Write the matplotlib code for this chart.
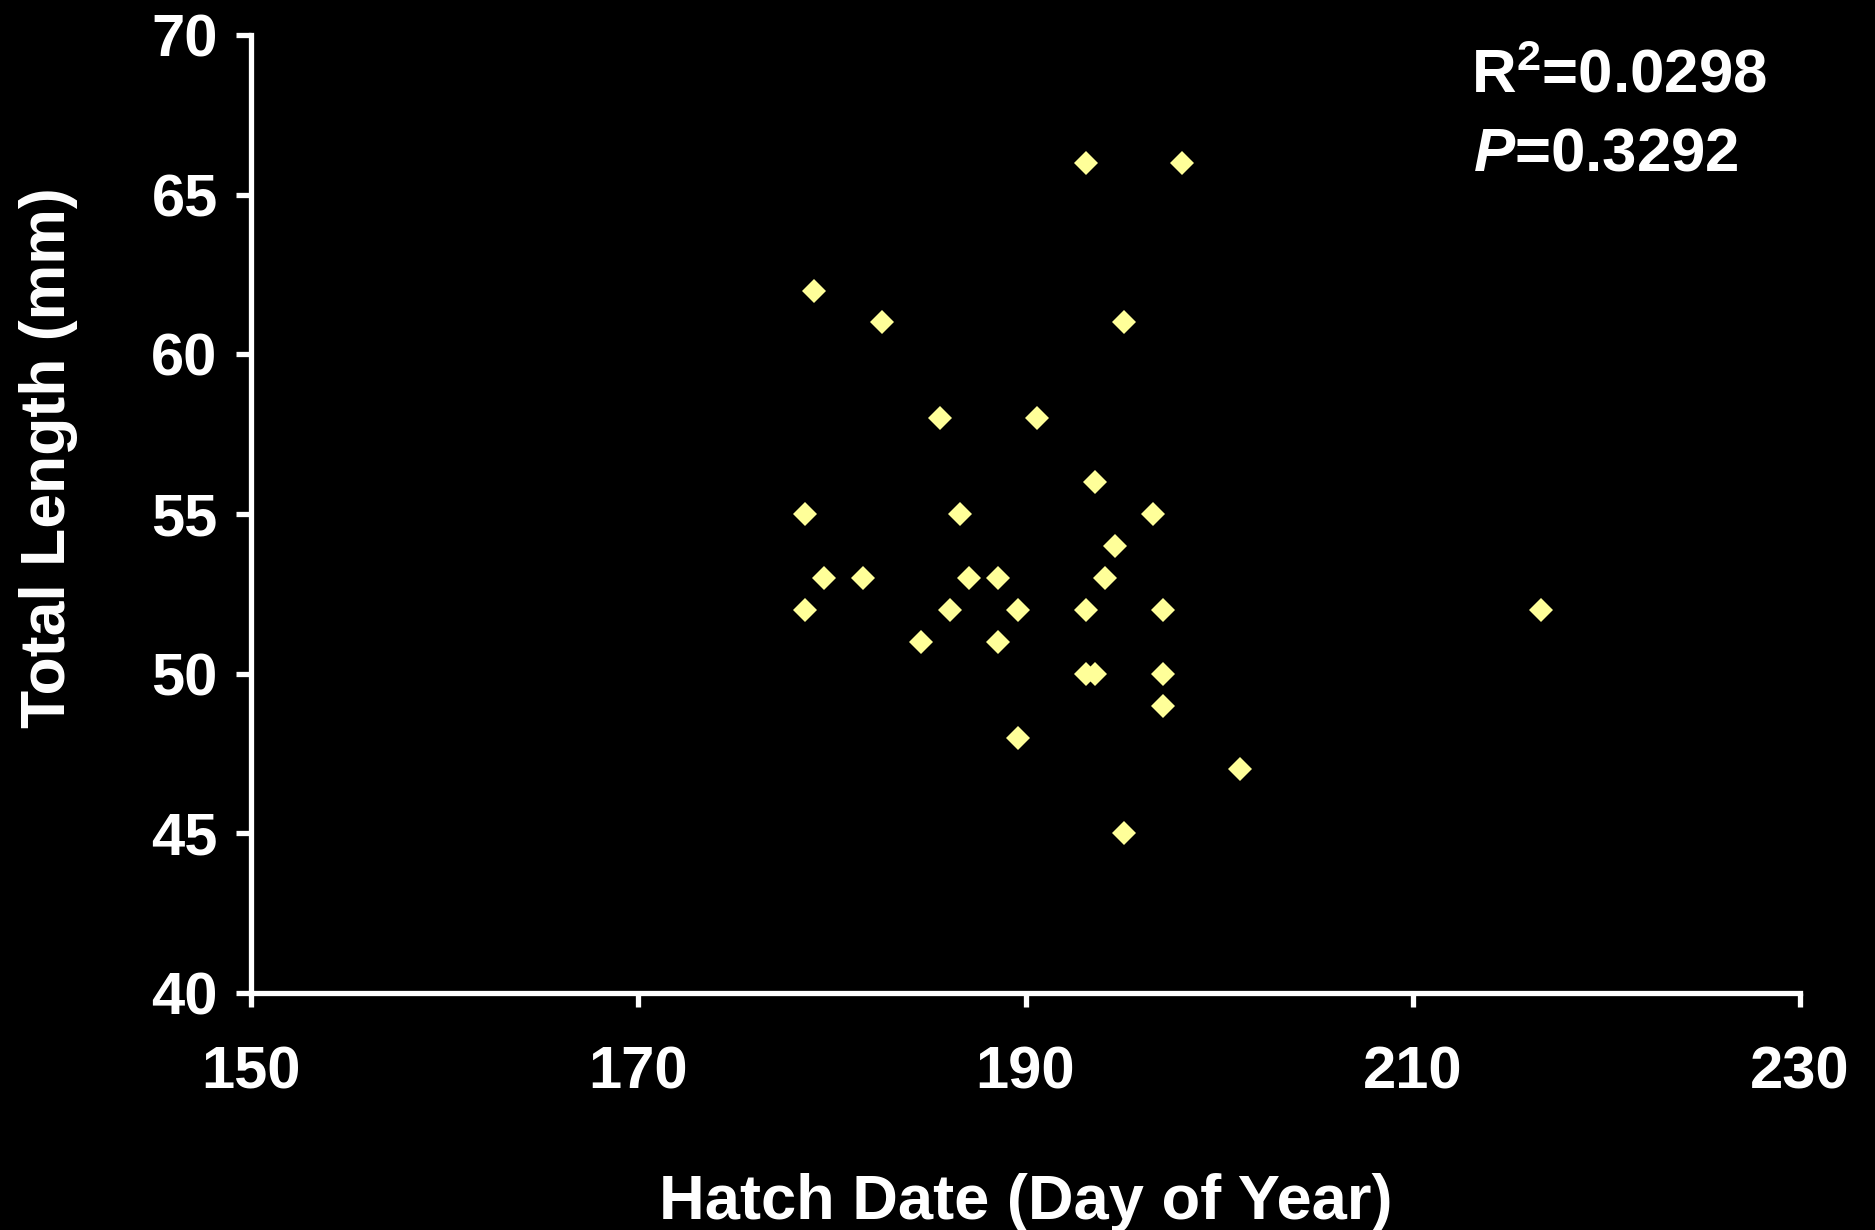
import numpy as np
import matplotlib
matplotlib.use("Agg")
import matplotlib.pyplot as plt

plt.rcParams['font.family'] = ['Liberation Sans', 'DejaVu Sans']
plt.rcParams['font.weight'] = 'bold'
plt.rcParams['mathtext.fontset'] = 'custom'
plt.rcParams['mathtext.rm'] = 'Liberation Sans:bold'
plt.rcParams['mathtext.it'] = 'Liberation Sans:italic:bold'

# hatch date (day of year) and total length (mm) of each fish
hatch_day = [193.1, 198.1, 179.1, 182.6, 195.1, 185.6, 190.6, 193.6,
             178.6, 186.6, 196.6, 194.6, 179.6, 181.6, 187.1, 188.6,
             194.1, 178.6, 186.1, 189.6, 193.1, 197.1, 216.6, 184.6,
             188.6, 193.1, 193.6, 197.1, 197.1, 189.6, 201.1, 195.1]
total_len = [66, 66, 62, 61, 61, 58, 58, 56,
             55, 55, 55, 54, 53, 53, 53, 53,
             53, 52, 52, 52, 52, 52, 52, 51,
             51, 50, 50, 50, 49, 48, 47, 45]

r2_text = 'R$^2$=0.0298'
p_text = '$P$=0.3292'

fig = plt.figure(figsize=(18.75, 12.3), dpi=100, facecolor='black')
ax = fig.add_axes([0.1339, 0.1927, 0.8261, 0.7788])
ax.set_facecolor('black')

ax.plot(hatch_day, total_len, linestyle='none', marker='D',
        markersize=12, markerfacecolor='#ffff99', markeredgewidth=0)

ax.set_xlim(150, 230)
ax.set_ylim(40, 70)
ax.set_xticks(np.arange(150, 231, 20))
ax.set_yticks(np.arange(40, 71, 5))

for side in ['top', 'right']:
    ax.spines[side].set_visible(False)
for side in ['left', 'bottom']:
    ax.spines[side].set_color('white')
    ax.spines[side].set_linewidth(3.8)

ax.tick_params(axis='both', colors='white', width=3.8, labelsize=43,
               direction='out')
ax.tick_params(axis='x', length=10, pad=28)
ax.tick_params(axis='y', length=11, pad=13)
for lab in ax.get_xticklabels() + ax.get_yticklabels():
    lab.set_fontweight('bold')

ax.set_xlabel('Hatch Date (Day of Year)', fontsize=45.5, fontweight='bold',
              color='white', labelpad=52)
fig.text(0.026, 0.628, 'Total Length (mm)', rotation=90, fontsize=45,
         fontweight='bold', color='white', ha='center', va='center')

fig.text(0.7845, 0.925, r2_text, fontsize=44.5, fontweight='bold',
         color='white', ha='left', va='baseline')
fig.text(0.7855, 0.861, p_text, fontsize=44.5, fontweight='bold',
         color='white', ha='left', va='baseline')

fig.savefig('out.png', dpi=100, facecolor='black')
